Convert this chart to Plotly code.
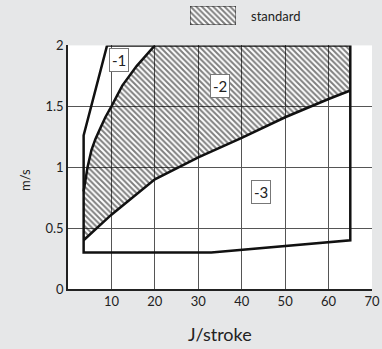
import plotly.graph_objects as go

# ---- data ----
outer_x = [9, 3.6, 3.6, 33, 65, 65, 9]
outer_y = [2.0, 1.26, 0.30, 0.30, 0.40, 2.0, 2.0]

std_left_x = [3.6, 4.0, 4.5, 5.4, 6.3, 7.3, 8.6, 10, 12.5, 15.8, 20]
std_left_y = [0.80, 0.90, 1.00, 1.14, 1.23, 1.31, 1.41, 1.50, 1.67, 1.83, 2.00]

std_low_x = [3.6, 10, 20, 30, 40, 50, 60, 65]
std_low_y = [0.40, 0.61, 0.90, 1.08, 1.24, 1.41, 1.56, 1.63]

x_ticks = [10, 20, 30, 40, 50, 60, 70]
y_ticks = [0, 0.5, 1, 1.5, 2]
y_tick_text = ["0", "0.5", "1", "1.5", "2"]

labels = ["-1", "-2", "-3"]
label_x = [11.7, 35, 44.5]
label_y = [1.88, 1.67, 0.80]

FONT = "Lato"
TXT = "#222"
CLEAR = "rgba(0,0,0,0)"
HATCH = dict(shape="\\", size=4, solidity=0.5, fgcolor="#000", bgcolor=CLEAR)

fig = go.Figure()

poly_x = std_left_x + [65] + list(reversed(std_low_x)) + [std_left_x[0]]
poly_y = std_left_y + [2.0] + list(reversed(std_low_y)) + [std_left_y[0]]
fig.add_trace(go.Scatter(
    x=poly_x, y=poly_y, mode="lines", fill="toself",
    fillcolor=CLEAR, line=dict(width=0, color=CLEAR),
    fillpattern=HATCH, hoverinfo="skip", showlegend=False))

fig.add_trace(go.Scatter(x=outer_x, y=outer_y, mode="lines",
                         line=dict(color="#111", width=2.5), showlegend=False))
fig.add_trace(go.Scatter(x=std_left_x, y=std_left_y, mode="lines",
                         line=dict(color="#111", width=2.5), showlegend=False))
fig.add_trace(go.Scatter(x=std_low_x, y=std_low_y, mode="lines",
                         line=dict(color="#111", width=2.5), showlegend=False))

# legend swatch
fig.add_trace(go.Scatter(
    x=[0, 1, 1, 0, 0], y=[0, 0, 1, 1, 0], mode="lines", fill="toself",
    fillcolor="white", line=dict(color="#222", width=1),
    fillpattern=dict(shape="\\", size=4, solidity=0.5, fgcolor="#000", bgcolor="white"),
    xaxis="x2", yaxis="y2", showlegend=False, hoverinfo="skip"))

top_dom = 243.6 / 289.0

fig.update_layout(
    width=382, height=349,
    margin=dict(l=68, r=10, t=0, b=60, autoexpand=False),
    paper_bgcolor="#e6e7e8", plot_bgcolor="white",
    font=dict(family=FONT, size=13, color=TXT),
    xaxis=dict(range=[0, 70], tickmode="array", tickvals=x_ticks,
               showgrid=True, gridcolor="#555555", gridwidth=1,
               zeroline=False, showline=True, linecolor="#222",
               linewidth=1.5, ticks="", automargin=False, layer="below traces",
               tickfont=dict(family=FONT, size=13, color=TXT)),
    yaxis=dict(range=[0, 2], tickmode="array", tickvals=y_ticks, ticktext=y_tick_text,
               domain=[0, top_dom], showgrid=True, gridcolor="#555555", gridwidth=1,
               zeroline=False, showline=True, linecolor="#222", linewidth=1.5,
               ticks="", automargin=False, layer="below traces",
               tickfont=dict(family=FONT, size=13, color=TXT)),
    xaxis2=dict(domain=[(190 - 68) / 304, (236 - 68) / 304], range=[0, 1],
                anchor="y2", visible=False, fixedrange=True),
    yaxis2=dict(domain=[(289 - 25) / 289, (289 - 6) / 289], range=[0, 1],
                anchor="x2", visible=False, fixedrange=True),
    showlegend=False,
)

for t, x, y in zip(labels, label_x, label_y):
    fig.add_annotation(x=x, y=y, xref="x", yref="y", text=t, showarrow=False,
                       font=dict(family=FONT, size=15, color=TXT),
                       bgcolor="white", bordercolor="#777", borderwidth=1, borderpad=2)

fig.add_annotation(xref="paper", yref="paper", x=(249 - 68) / 304, y=(289 - 15.5) / 289,
                   xanchor="left", yanchor="middle", text="standard", showarrow=False,
                   font=dict(family=FONT, size=13, color=TXT))
fig.add_annotation(xref="paper", yref="paper", x=(220 - 68) / 304, y=(289 - 334) / 289,
                   xanchor="center", yanchor="middle", text="J/stroke", showarrow=False,
                   font=dict(family=FONT, size=18, color=TXT))
fig.add_annotation(xref="paper", yref="paper", x=(25 - 68) / 304, y=(289 - 180) / 289,
                   xanchor="center", yanchor="middle", text="m/s", textangle=-90,
                   showarrow=False, font=dict(family=FONT, size=13, color=TXT))

fig.write_html("out.html", config={"displayModeBar": False},
               post_script="document.body.style.margin='0';document.body.style.background='#e6e7e8';")
